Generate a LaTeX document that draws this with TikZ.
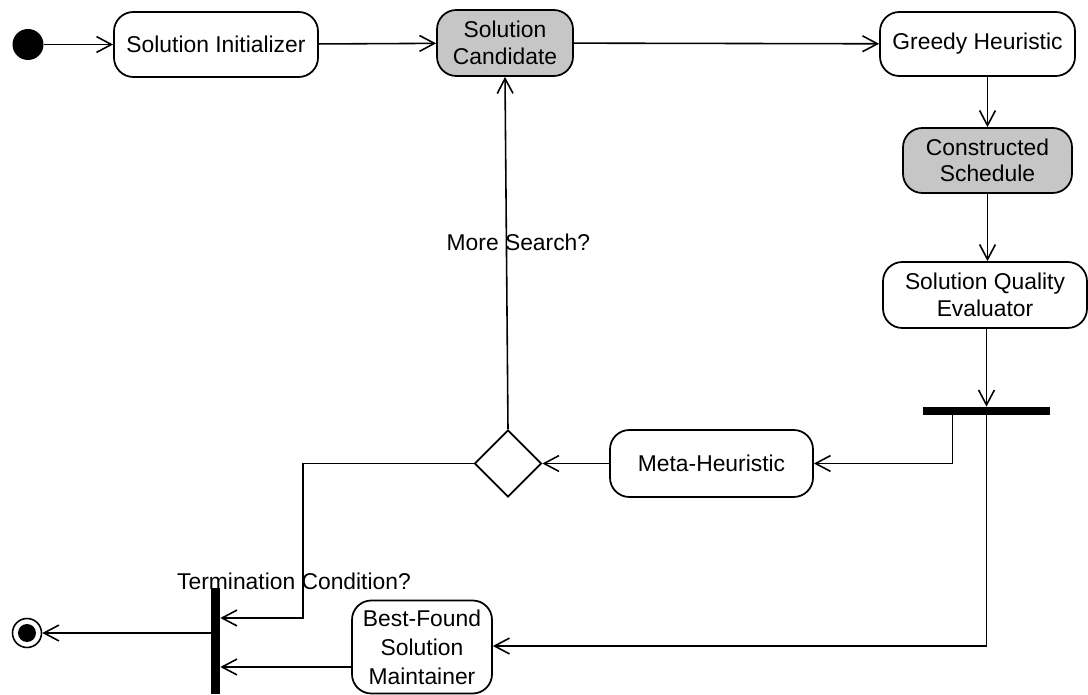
\documentclass[tikz,border=0pt]{standalone}
\usepackage{fontspec}
\setmainfont{Liberation Sans}
\usetikzlibrary{arrows.meta, shapes.geometric}
\definecolor{c1}{HTML}{000000}
\definecolor{c2}{HTML}{C6C6C6}

\begin{document}
\begin{tikzpicture}[
    every node/.style={font=\fontsize{13}{15}\selectfont},
    act/.style={rectangle, rounded corners=11pt, draw=c1, line width=1.0pt,
        align=center, inner sep=0pt},
    obj/.style={act, fill=c2},
    bar/.style={rectangle, fill=c1, inner sep=0pt},
    arr/.style={-{Straight Barb[length=8.5pt, width=9pt]}, line width=0.9pt, color=c1},
    lab/.style={inner sep=1pt, text=c1},
]
\useasboundingbox (0,0) rectangle (21.76,13.88);

% ============================================================ top row
\node[circle, fill=c1, minimum size=0.62cm, inner sep=0pt] (start) at (0.56, 12.99) {};
\node[act, minimum width=4.08cm, minimum height=1.30cm] (init) at (4.32, 12.99)
    {Solution Initializer};
\node[obj, minimum width=2.72cm, minimum height=1.32cm] (cand) at (10.10, 13.02)
    {Solution\\Candidate};
\node[act, minimum width=3.90cm, minimum height=1.28cm] (greedy) at (19.55, 13.00)
    {Greedy Heuristic};

\draw[arr] (start) -- (init);
\draw[arr] (init) -- (cand);
\draw[arr] (cand) -- (greedy);

% ============================================================ right column
\node[obj, minimum width=3.38cm, minimum height=1.30cm] (sched) at (19.75, 10.67)
    {Constructed\\Schedule};
\node[act, minimum width=4.08cm, minimum height=1.32cm] (qual) at (19.70, 7.98)
    {Solution Quality\\Evaluator};
\node[bar, minimum width=2.54cm, minimum height=0.16cm] (fork) at (19.73, 5.66) {};

\draw[arr] (greedy.south -| sched.north) -- (sched.north);
\draw[arr] (sched.south) -- (qual.north -| sched.south);
\draw[arr] (qual.south -| fork.north) -- (fork.north);

% ============================================================ the search loop
\node[act, minimum width=4.06cm, minimum height=1.34cm] (meta) at (14.23, 4.61)
    {Meta-Heuristic};
\node[diamond, draw=c1, line width=1.0pt, minimum width=1.34cm, minimum height=1.34cm,
    inner sep=0pt] (dec) at (10.16, 4.61) {};

\draw[arr] ([xshift=-0.68cm]fork.south) |- (meta.east);
\draw[arr] (meta.west) -- (dec.east);
\draw[arr] (dec.north) -- node[lab, pos=0.53, xshift=0.24cm] {More Search?} (cand.south);

% ============================================================ the end
\node[bar, minimum width=0.18cm, minimum height=2.12cm] (join) at (4.31, 1.06) {};
\node[act, minimum width=2.80cm, minimum height=1.86cm,
    font=\fontsize{13}{16.5}\selectfont] (best) at (8.44, 0.94)
    {Best-Found\\Solution\\Maintainer};
\node[circle, draw=c1, line width=0.9pt, minimum size=0.58cm, inner sep=0pt] (final)
    at (0.54, 1.22) {};
\node[circle, fill=c1, minimum size=0.36cm, inner sep=0pt] (finaldot) at (final) {};

\coordinate (tbend) at (6.06, 1.52);
\draw[arr] (dec.west) -| node[lab, pos=0.88, xshift=-0.18cm] {Termination Condition?}
    (tbend) -- (tbend -| join.east);
\draw[arr] (fork.south) |- ([yshift=0.02cm]best.east);
\draw[arr] ([yshift=-0.40cm]best.west) -- ([yshift=-0.40cm]best.west -| join.east);
\draw[arr] (final -| join.west) -- (final);

\end{tikzpicture}
\end{document}
